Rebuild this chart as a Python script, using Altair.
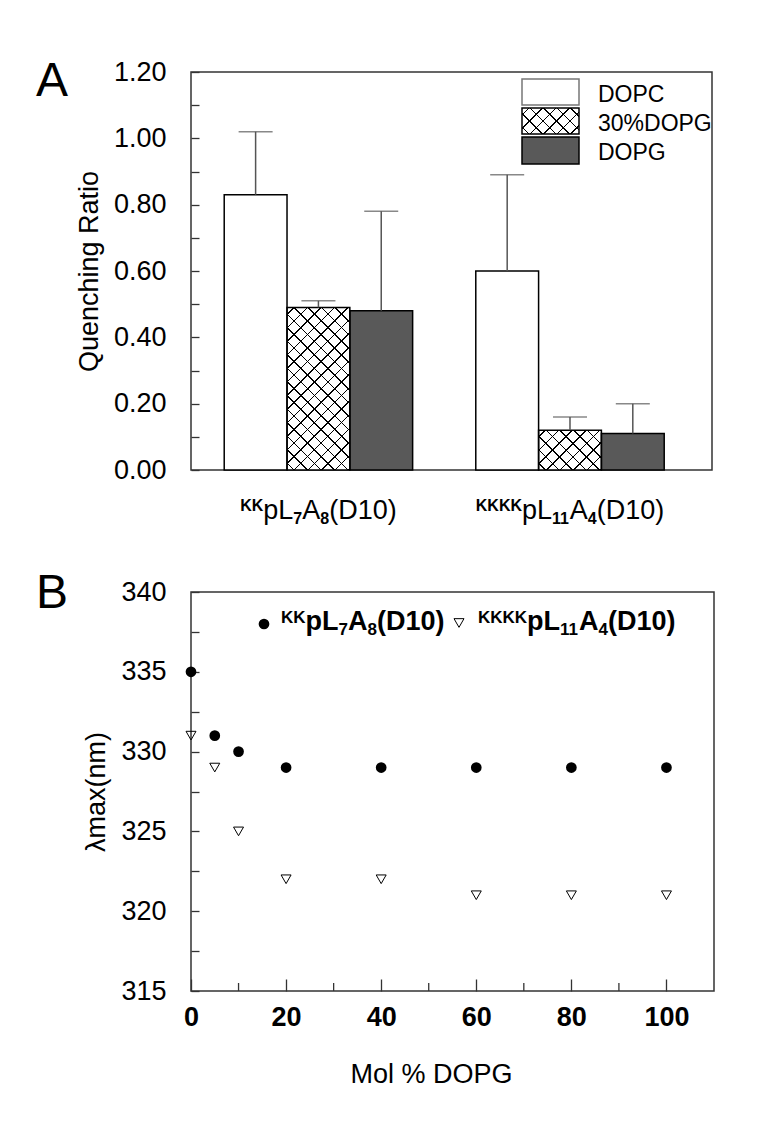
import math
import altair as alt
import pandas as pd

FONT = "Liberation Sans"

# ---------------- data ----------------
peptides = ["KK", "KKKK"]
lipids = ["DOPC", "30%DOPG", "DOPG"]
ratio_KK = [0.83, 0.49, 0.48]
upper_KK = [1.02, 0.51, 0.78]
ratio_KKKK = [0.60, 0.12, 0.11]
upper_KKKK = [0.89, 0.16, 0.20]

mol_pct = [0, 5, 10, 20, 40, 60, 80, 100]
lam_KK = [335, 331, 330, 329, 329, 329, 329, 329]
lam_KKKK = [331, 329, 325, 322, 322, 321, 321, 321]

yA_ticks = [0.0, 0.1, 0.2, 0.3, 0.4, 0.5, 0.6, 0.7, 0.8, 0.9, 1.0, 1.1, 1.2]
yB_ticks = [315, 317.5, 320, 322.5, 325, 327.5, 330, 332.5, 335, 337.5, 340]
xB_major = [0, 20, 40, 60, 80, 100]
xB_minor = [10, 30, 50, 70, 90]

labelA_segs = [
    [("KK", "sup"), ("pL", "main"), ("7", "sub"), ("A", "main"), ("8", "sub"), ("(D10)", "main")],
    [("KKKK", "sup"), ("pL", "main"), ("11", "sub"), ("A", "main"), ("4", "sub"), ("(D10)", "main")],
]

dfA = pd.DataFrame({
    "peptide": [p for p in peptides for _ in lipids],
    "lipid": lipids * len(peptides),
    "ratio": ratio_KK + ratio_KKKK,
    "upper": upper_KK + upper_KKKK,
})
dfB = pd.DataFrame({
    "mol": mol_pct + mol_pct,
    "lam": lam_KK + lam_KKKK,
    "pep": ["KK"] * len(mol_pct) + ["KKKK"] * len(mol_pct),
})
one = pd.DataFrame({"k": [0]})

# ---------------- helpers ----------------
REG_W = {"p": 556, "L": 556, "A": 667, "(": 333, ")": 333, "D": 722, "K": 667}
BOLD_W = {"p": 611, "L": 611, "A": 722, "(": 333, ")": 333, "D": 722, "K": 722}


def text_w(t, size, bold):
    tbl = BOLD_W if bold else REG_W
    return sum(tbl.get(c, 556) for c in t) * size / 1000.0


def rich_pieces(segs, main_size, small_size, main_bold, small_bold, sub_shift):
    sup_shift = (main_size - small_size) * 0.716
    pieces, x = [], 0.0
    for t, kind in segs:
        if kind == "main":
            size, bold, dy = main_size, main_bold, 0
        elif kind == "sup":
            size, bold, dy = small_size, small_bold, -sup_shift
        else:
            size, bold, dy = small_size, small_bold, sub_shift
        pieces.append((t, x, dy, size, bold))
        x += text_w(t, size, bold)
    return pieces, x


def hatch(w, h, fam, s=9.6, lw=1.1):
    L = w + h
    c = L * w * h / (w * w + h * h)
    if fam == 1:
        x1, y1, x2, y2 = 0, 0, c / h, c / w
    else:
        x1, y1, x2, y2 = 0, 1, c / h, 1 - c / w
    per = s * math.sqrt(2)
    half = lw * math.sqrt(2) / 2
    TR = "rgba(0,0,0,0)"
    stops = [(0.0, TR)]
    pos = per / 2
    while pos < L:
        a = max(0.0, (pos - half) / L)
        b = min(1.0, (pos + half) / L)
        stops += [(a, TR), (a, "black"), (b, "black"), (b, TR)]
        pos += per
    stops.append((1.0, TR))
    return alt.LinearGradient(
        gradient="linear",
        stops=[alt.GradientStop(offset=o, color=col) for o, col in stops],
        x1=x1, y1=y1, x2=x2, y2=y2,
    )


# ---------------- panel A ----------------
W_A, H_A = 521, 398
PI, PO, AL = 0.251, 0.161, 0.41

xA = alt.X("peptide:N", sort=peptides, axis=None,
           scale=alt.Scale(paddingInner=PI, paddingOuter=PO, align=AL))
xoA = alt.XOffset("lipid:N", sort=lipids, scale=alt.Scale(paddingInner=0, paddingOuter=0))
axisA = alt.Axis(values=yA_ticks,
                 labelExpr="round(datum.value*10) % 2 == 0 ? format(datum.value, '.2f') : ''",
                 tickSize=8, offset=-8, domain=False, grid=False, labelPadding=25,
                 labelFlush=False, labelOverlap=False,
                 labelFont=FONT, labelFontSize=27, labelColor="black",
                 tickColor="#333", tickWidth=1.3,
                 title="Quenching Ratio", titleFont=FONT, titleFontSize=27,
                 titleFontWeight="normal", titleColor="black", titlePadding=10)


def yA(field):
    return alt.Y(field, scale=alt.Scale(domain=[0, 1.2], nice=False), axis=axisA)


baseA = alt.Chart(dfA)
bars = baseA.mark_bar(strokeWidth=0).encode(
    x=xA, xOffset=xoA, y=yA("ratio:Q"),
    fill=alt.Fill("lipid:N", sort=lipids, legend=None,
                  scale=alt.Scale(domain=lipids, range=["white", "white", "#595959"])),
)

step = W_A / (len(peptides) - PI + 2 * PO)
bar_w = step * (1 - PI) / len(lipids)
hatch_layers = []
for p, vals in zip(peptides, [ratio_KK, ratio_KKKK]):
    v = vals[lipids.index("30%DOPG")]
    h = v / 1.2 * H_A
    for fam in (1, 2):
        hatch_layers.append(
            baseA.transform_filter((alt.datum.peptide == p) & (alt.datum.lipid == "30%DOPG"))
            .mark_bar(fill=hatch(bar_w, h, fam), strokeWidth=0)
            .encode(x=xA, xOffset=xoA, y=yA("ratio:Q"))
        )

outline = baseA.mark_bar(fill="white", fillOpacity=0, stroke="black", strokeWidth=1.5).encode(
    x=xA, xOffset=xoA, y=yA("ratio:Q"))
err = baseA.mark_rule(color="#555", strokeWidth=1.5).encode(
    x=xA, xOffset=xoA, y=yA("ratio:Q"), y2="upper:Q")
caps = baseA.mark_tick(orient="horizontal", size=34, thickness=1.5, color="#555").encode(
    x=xA, xOffset=xoA, y=yA("upper:Q"))

# x labels of panel A (rich text, centred on each group through the band scale)
lab_df = pd.DataFrame({"peptide": peptides})
labA_layers = []
for p, segs in zip(peptides, labelA_segs):
    pieces, total = rich_pieces(segs, 27, 16, False, True, 5)
    for t, off, dy, size, bold in pieces:
        labA_layers.append(
            alt.Chart(lab_df).transform_filter(alt.datum.peptide == p)
            .mark_text(text=t, align="left", baseline="alphabetic", dx=off - total / 2, dy=dy,
                       fontSize=size, fontWeight="bold" if bold else "normal",
                       font=FONT, color="black")
            .encode(x=xA, y=alt.value(H_A + 49))
        )


def rect(x0, x1, y0, y1, **kw):
    return alt.Chart(one).mark_rect(**kw).encode(
        x=alt.value(x0), x2=alt.value(x1), y=alt.value(y0), y2=alt.value(y1))


def txt(t, x, y, size, bold=False, align="left"):
    return alt.Chart(one).mark_text(
        text=t, align=align, baseline="alphabetic", fontSize=size,
        fontWeight="bold" if bold else "normal", font=FONT, color="black",
    ).encode(x=alt.value(x), y=alt.value(y))


sw_x0, sw_x1 = 331, 388
rows = [(7, 33), (36, 62), (65, 92)]
legA = [
    rect(sw_x0, sw_x1, *rows[0], fill="white", stroke="#777", strokeWidth=1.5),
    rect(sw_x0, sw_x1, *rows[1], fill="white", strokeWidth=0),
    rect(sw_x0, sw_x1, *rows[1], fill=hatch(sw_x1 - sw_x0, rows[1][1] - rows[1][0], 1), strokeWidth=0),
    rect(sw_x0, sw_x1, *rows[1], fill=hatch(sw_x1 - sw_x0, rows[1][1] - rows[1][0], 2), strokeWidth=0),
    rect(sw_x0, sw_x1, *rows[1], fill="white", fillOpacity=0, stroke="black", strokeWidth=1.5),
    rect(sw_x0, sw_x1, *rows[2], fill="#595959", stroke="black", strokeWidth=1.5),
    txt("DOPC", 407, 30, 23),
    txt("30%DOPG", 407, 59, 23),
    txt("DOPG", 407, 88, 23),
    txt("A", -155, 24, 48),
]

panelA = alt.layer(bars, *hatch_layers, outline, err, caps, *labA_layers, *legA).properties(
    width=W_A, height=H_A)

# ---------------- panel B ----------------
W_B, H_B = 523, 399
xB_axis = alt.Axis(values=xB_major, format="d", tickSize=12, offset=-12, domain=False, grid=False,
                   labelPadding=13, labelFlush=False, labelOverlap=False,
                   labelFont=FONT, labelFontSize=27, labelFontWeight="bold",
                   labelColor="black", tickColor="#333", tickWidth=1.3,
                   title="Mol % DOPG", titleFont=FONT, titleFontSize=27, titleFontWeight="normal",
                   titleColor="black", titlePadding=31, titleX=240, titleAlign="center")
yB_axis = alt.Axis(values=yB_ticks,
                   labelExpr="datum.value % 5 == 0 ? format(datum.value, 'd') : ''",
                   tickSize=8, offset=-8, domain=False, grid=False, labelPadding=25,
                   labelFlush=False, labelOverlap=False,
                   labelFont=FONT, labelFontSize=27, labelColor="black",
                   tickColor="#333", tickWidth=1.3,
                   title="λmax(nm)", titleFont=FONT, titleFontSize=27, titleFontWeight="normal",
                   titleColor="black", titlePadding=10)

xB = alt.X("mol:Q", scale=alt.Scale(domain=[0, 110], nice=False), axis=xB_axis)
yB = alt.Y("lam:Q", scale=alt.Scale(domain=[315, 340], nice=False, zero=False), axis=yB_axis)

baseB = alt.Chart(dfB)
circles = baseB.transform_filter(alt.datum.pep == "KK").mark_point(
    shape="circle", filled=True, color="black", size=115, opacity=1).encode(x=xB, y=yB)
tris = baseB.transform_filter(alt.datum.pep == "KKKK").mark_point(
    shape="triangle-down", filled=False, color="black", strokeWidth=1, size=100, opacity=1).encode(x=xB, y=yB)

minor = alt.Chart(pd.DataFrame({"mol": xB_minor})).mark_rule(color="#333", strokeWidth=1.3).encode(
    x=xB, y=alt.value(H_B - 8), y2=alt.value(H_B))

legB = [
    alt.Chart(one).mark_point(shape="circle", filled=True, color="black", size=115, opacity=1).encode(
        x=alt.value(73), y=alt.value(32)),
    alt.Chart(one).mark_point(shape="triangle-down", filled=False, color="black", strokeWidth=1,
                              size=100, opacity=1).encode(x=alt.value(268), y=alt.value(31)),
    txt("B", -155, 16, 48),
]
for segs, x0 in [(labelA_segs[0], 90), (labelA_segs[1], 287)]:
    pieces, total = rich_pieces(segs, 27, 17, True, True, 5)
    for t, off, dy, size, bold in pieces:
        legB.append(
            alt.Chart(one).mark_text(text=t, align="left", baseline="alphabetic", dy=dy,
                                     fontSize=size, fontWeight="bold", font=FONT, color="black")
            .encode(x=alt.value(x0 + off), y=alt.value(38))
        )

panelB = alt.layer(minor, circles, tris, *legB).properties(width=W_B, height=H_B)

chart = (
    alt.vconcat(panelA, panelB, spacing=122, bounds="flush")
    .properties(padding={"left": 27, "top": 49, "right": 10, "bottom": 10})
    .configure_view(stroke="#333", strokeWidth=1.5)
)

chart.save("out.html", embed_options={"renderer": "svg", "actions": False})
